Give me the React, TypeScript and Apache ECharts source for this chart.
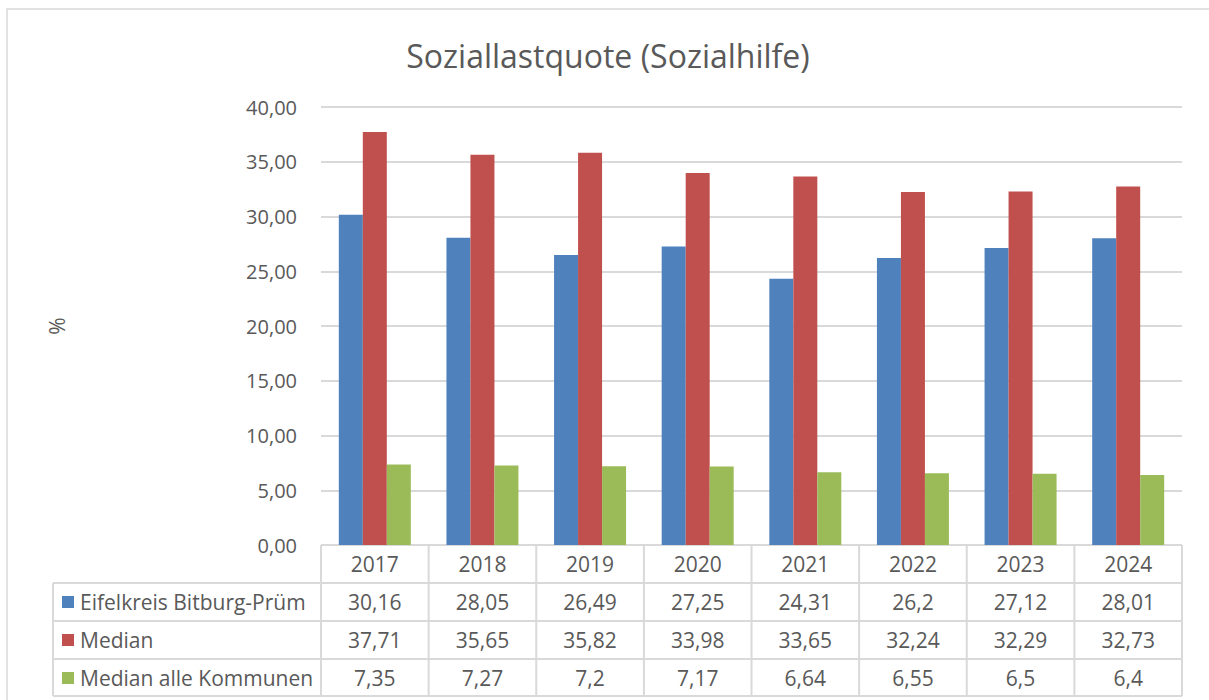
import React, { useEffect, useRef } from "react";
import * as echarts from "echarts";

const categories = ["2017", "2018", "2019", "2020", "2021", "2022", "2023", "2024"];
const seriesNames = ["Eifelkreis Bitburg-Prüm", "Median", "Median alle Kommunen"];
const eifelkreis = [30.16, 28.05, 26.49, 27.25, 24.31, 26.2, 27.12, 28.01];
const median = [37.71, 35.65, 35.82, 33.98, 33.65, 32.24, 32.29, 32.73];
const medianAlle = [7.35, 7.27, 7.2, 7.17, 6.64, 6.55, 6.5, 6.4];
const colors = ["#4F81BD", "#C0504D", "#9BBB59"];
const FONT = "Open Sans";
const TXT = "#595959";
const LINE = "#d9d9d9";

const W = 1209;
const H = 700;
const PL = 321;
const PR = 1182;
const PT = 107;
const PB = 545;
const ROW = 38;
const LEGX = 53;

export default function App() {
  const ref = useRef<HTMLDivElement>(null);
  useEffect(() => {
    const chart = echarts.init(ref.current!, null, { renderer: "svg" });
    const allSeries = [eifelkreis, median, medianAlle];
    const colW = (PR - PL) / categories.length;
    const graphics: any[] = [];
    graphics.push({
      type: "rect",
      shape: { x: 7, y: 9, width: W + 20, height: H + 20 },
      style: { fill: "none", stroke: LINE, lineWidth: 1.5 },
      silent: true,
    });
    const hline = (x1: number, x2: number, y: number) =>
      graphics.push({
        type: "line",
        shape: { x1, y1: y, x2, y2: y },
        style: { stroke: LINE, lineWidth: 2 },
      });
    const vline = (x: number, y1: number, y2: number) =>
      graphics.push({
        type: "line",
        shape: { x1: x, y1, x2: x, y2 },
        style: { stroke: LINE, lineWidth: 2 },
      });
    hline(PL, PR, PB);
    for (let r = 1; r <= 4; r++) hline(LEGX, PR, PB + ROW * r - (r === 4 ? 1 : 0));
    vline(LEGX, PB + ROW, PB + ROW * 4 - 1);
    for (let c = 0; c <= categories.length; c++) vline(PL + colW * c, PB, PB + ROW * 4 - 1);
    categories.forEach((cat, c) => {
      graphics.push({
        type: "text",
        x: PL + colW * (c + 0.5),
        y: PB + ROW / 2,
        style: { text: cat, fill: TXT, font: `21px "${FONT}"`, align: "center", verticalAlign: "middle" },
      });
    });
    allSeries.forEach((vals, r) => {
      const cy = PB + ROW * (r + 1) + ROW / 2;
      graphics.push({
        type: "rect",
        shape: { x: 62, y: cy - 6, width: 12, height: 12 },
        style: { fill: colors[r] },
      });
      graphics.push({
        type: "text",
        x: 80,
        y: cy,
        style: { text: seriesNames[r], fill: TXT, font: `21px "${FONT}"`, align: "left", verticalAlign: "middle" },
      });
      vals.forEach((v, c) => {
        graphics.push({
          type: "text",
          x: PL + colW * (c + 0.5),
          y: cy,
          style: {
            text: String(v).replace(".", ","),
            fill: TXT,
            font: `21px "${FONT}"`,
            align: "center",
            verticalAlign: "middle",
          },
        });
      });
    });
    graphics.push({
      type: "text",
      x: 57,
      y: 326,
      rotation: Math.PI / 2,
      style: { text: "%", fill: TXT, font: `21px "${FONT}"`, align: "center", verticalAlign: "middle" },
    });
    graphics.push({
      type: "text",
      x: 608,
      y: 55,
      style: {
        text: "Soziallastquote (Sozialhilfe)",
        fill: TXT,
        font: `32px "${FONT}"`,
        align: "center",
        verticalAlign: "middle",
      },
    });

    chart.setOption({
      animation: false,
      backgroundColor: "#fff",
      grid: { left: PL, right: W - PR, top: PT, bottom: H - PB, containLabel: false },
      xAxis: {
        type: "category",
        data: categories,
        axisLine: { show: false },
        axisTick: { show: false },
        axisLabel: { show: false },
      },
      yAxis: {
        type: "value",
        min: 0,
        max: 40,
        interval: 5,
        axisLine: { show: false },
        axisTick: { show: false },
        splitLine: { lineStyle: { color: LINE, width: 2 } },
        axisLabel: {
          color: TXT,
          fontFamily: FONT,
          fontSize: 20,
          margin: 24,
          formatter: (v: number) => v.toFixed(2).replace(".", ","),
        },
      },
      series: allSeries.map((vals, i) => ({
        name: seriesNames[i],
        type: "bar",
        data: vals,
        barWidth: 24,
        barGap: "0%",
        itemStyle: { color: colors[i] },
      })),
      graphic: graphics,
    });
    return () => chart.dispose();
  }, []);
  return <div ref={ref} style={{ width: W, height: H, position: "absolute", left: 0, top: 0 }} />;
}
